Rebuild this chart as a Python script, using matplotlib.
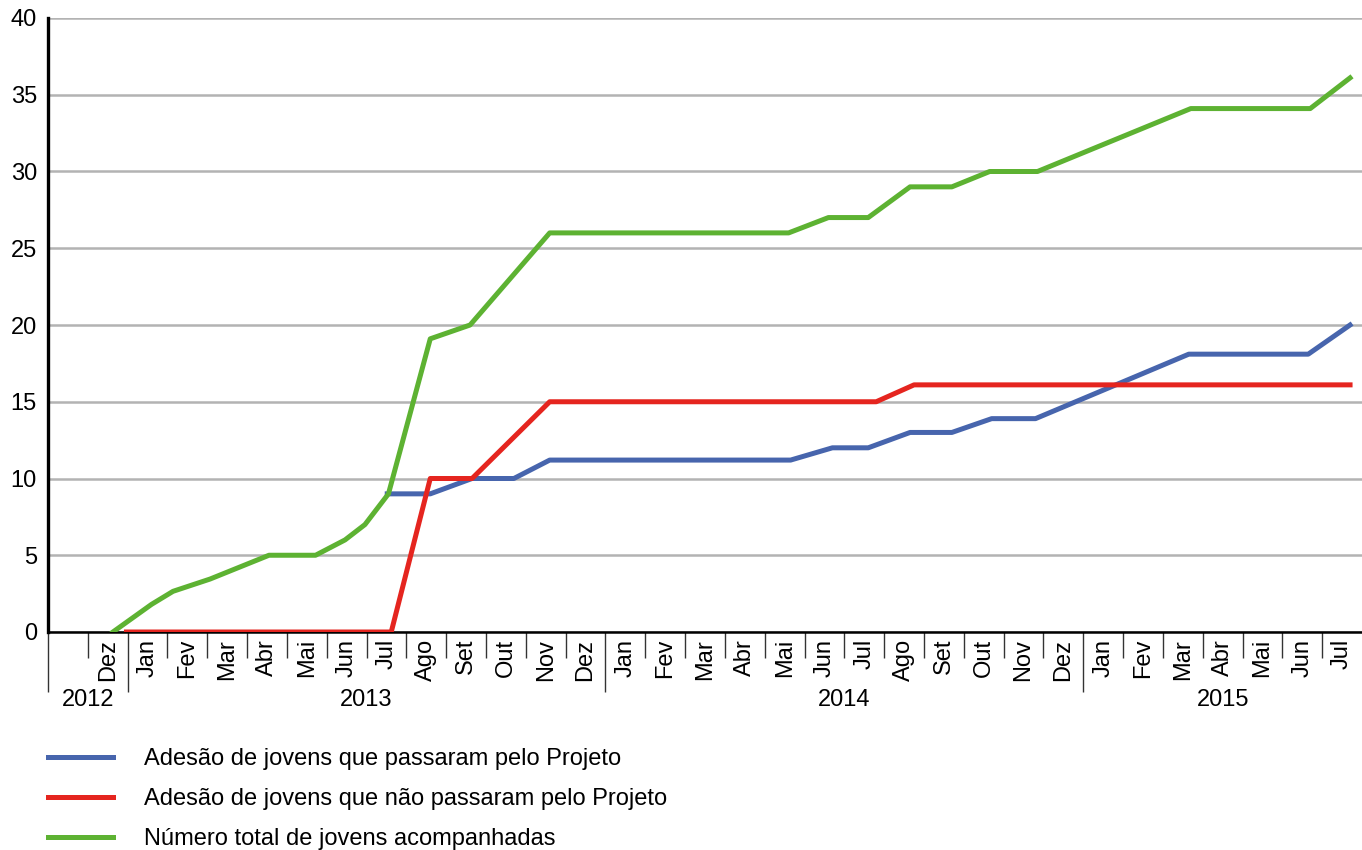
import matplotlib
matplotlib.use("Agg")
import matplotlib.pyplot as plt

plt.rcParams['font.family'] = ['Liberation Sans', 'DejaVu Sans']

# categorias do eixo x (um slot por mês)
meses = ['Jan', 'Fev', 'Mar', 'Abr', 'Mai', 'Jun', 'Jul', 'Ago', 'Set', 'Out', 'Nov', 'Dez']
slot_labels = [''] + ['Dez'] + meses + meses + meses[:7]
anos = ['2012', '2013', '2014', '2015']
anos_inicio = [0, 2, 14, 26]
anos_fim = [2, 14, 26, 33]

# posições (em slots de mês) e valores
passaram_x = [8.52, 9.6, 10.65, 11.7, 12.6, 18.65, 19.7, 20.6, 21.65, 22.7, 23.7, 24.8, 28.65, 31.65, 32.7]
passaram_y = [9, 9, 10, 10, 11.2, 11.2, 12, 12, 13, 13, 13.9, 13.9, 18.1, 18.1, 20]

nao_passaram_x = [1.97, 8.62, 9.6, 10.65, 12.6, 20.8, 21.75, 32.7]
nao_passaram_y = [0, 0, 10, 10, 15, 15, 16.1, 16.1]

total_x = [1.63, 2.6, 3.14, 4.07, 5.55, 6.72, 7.46, 7.96, 8.55, 9.6, 10.6, 12.6,
           18.6, 19.6, 20.6, 21.65, 22.7, 23.65, 24.85, 28.7, 31.7, 32.7]
total_y = [0, 1.8, 2.65, 3.45, 5, 5, 6, 7, 9, 19.1, 20, 26,
           26, 27, 27, 29, 29, 30, 30, 34.1, 34.1, 36.1]

legendas = ['Adesão de jovens que passaram pelo Projeto',
            'Adesão de jovens que não passaram pelo Projeto',
            'Número total de jovens acompanhadas']
cores = ['#4765ad', '#e5251f', '#5db232']

fig = plt.figure(figsize=(13.62, 8.5), dpi=100)
ax = fig.add_axes([48 / 1362, 1 - 632 / 850, 1314 / 1362, 614 / 850])

ax.plot(passaram_x, passaram_y, color=cores[0], lw=3.6, label=legendas[0], zorder=3)
ax.plot(nao_passaram_x, nao_passaram_y, color=cores[1], lw=3.6, label=legendas[1], zorder=3)
ax.plot(total_x, total_y, color=cores[2], lw=3.6, label=legendas[2], zorder=4)

ax.set_xlim(0, len(slot_labels))
ax.set_ylim(0, 40)
ax.set_yticks(range(0, 41, 5))
ax.tick_params(axis='y', length=0, pad=8, labelsize=17)
ax.yaxis.grid(True, color='#b3b3b3', lw=1.8)
ax.set_axisbelow(True)

for s in ['top', 'right']:
    ax.spines[s].set_visible(False)
ax.spines['left'].set_linewidth(2.4)
ax.spines['bottom'].set_linewidth(1.8)
ax.spines['left'].set_zorder(5)

# ticks: separadores dos anos (longos) e dos meses (curtos)
ax.set_xticks(anos_inicio)
ax.set_xticklabels([])
ax.set_xticks([i for i in range(1, len(slot_labels)) if i not in anos_inicio], minor=True)
ax.tick_params(axis='x', which='major', length=43, width=1, color='#333333', direction='out')
ax.tick_params(axis='x', which='minor', length=19, width=1, color='#333333', direction='out')

for i, lab in enumerate(slot_labels):
    if lab:
        ax.annotate(lab, xy=(i + 0.5, 0), xycoords=('data', 'axes fraction'),
                    xytext=(0, -5), textcoords='offset points',
                    rotation=90, ha='center', va='top', fontsize=17)

for ano, a, b in zip(anos, anos_inicio, anos_fim):
    ax.annotate(ano, xy=((a + b) / 2, 0), xycoords=('data', 'axes fraction'),
                xytext=(0, -41), textcoords='offset points',
                ha='center', va='top', fontsize=17)

fig.legend(loc='upper left', bbox_to_anchor=(48 / 1362, 1 - 748 / 850),
           frameon=False, fontsize=17, handlelength=2.75, handletextpad=1.3,
           labelspacing=0.76, borderpad=0, borderaxespad=0)

fig.savefig('out.png', dpi=100)
